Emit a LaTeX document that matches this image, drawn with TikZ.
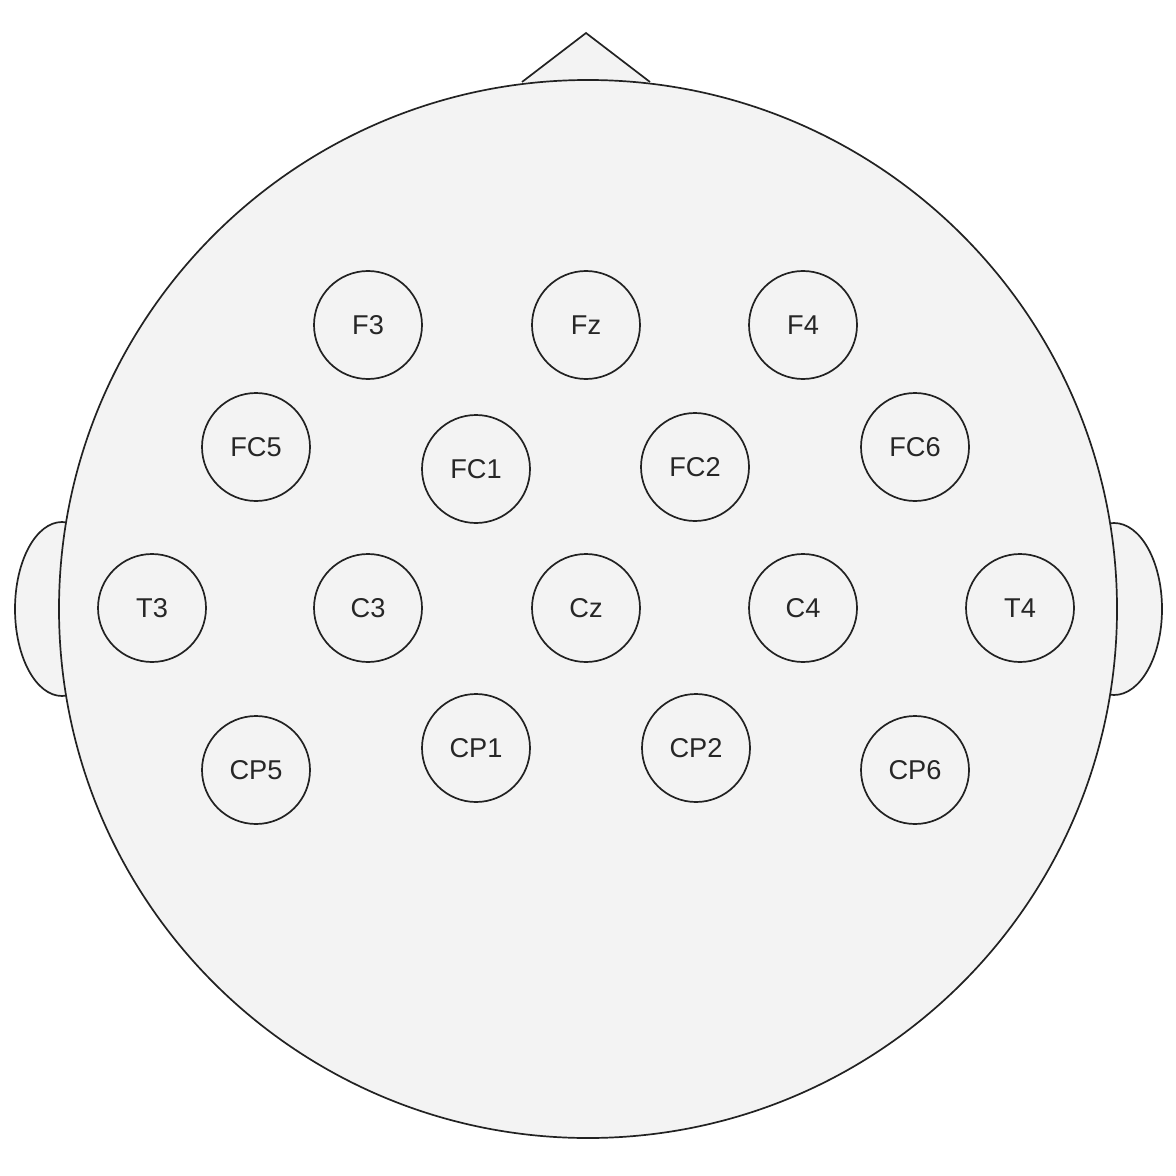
\documentclass[tikz,border=0pt]{standalone}
\usepackage{fontspec}
\setmainfont{Liberation Sans}
\definecolor{headfill}{HTML}{F3F3F3}
\definecolor{headline}{HTML}{222222}

\begin{document}
\begin{tikzpicture}[x=0.5pt,y=-0.5pt,line width=0.85pt]

        \useasboundingbox (0,0) rectangle (1176,1176);

        % nose and ears first, head drawn over them
        \draw[headline,fill=headfill] (522,82) -- (586,33) -- (650,82);
        \draw[headline,fill=headfill] (62,609) ellipse [x radius=47,y radius=87];
        \draw[headline,fill=headfill] (1114,609) ellipse [x radius=48,y radius=86];
        \draw[headline,fill=headfill] (588,609) circle [radius=529];

        \begin{scope}[every node/.style={circle,draw=headline,text=black!85,
            inner sep=0pt,minimum size=54pt,font=\fontsize{13.6}{16}\selectfont}]
          \node (F3)  at (368,325) {F3};
          \node (Fz)  at (586,325) {Fz};
          \node (F4)  at (803,325) {F4};
          \node (FC5) at (256,447) {FC5};
          \node (FC1) at (476,469) {FC1};
          \node (FC2) at (695,467) {FC2};
          \node (FC6) at (915,447) {FC6};
          \node (T3)  at (152,608) {T3};
          \node (C3)  at (368,608) {C3};
          \node (Cz)  at (586,608) {Cz};
          \node (C4)  at (803,608) {C4};
          \node (T4)  at (1020,608) {T4};
          \node (CP5) at (256,770) {CP5};
          \node (CP1) at (476,748) {CP1};
          \node (CP2) at (696,748) {CP2};
          \node (CP6) at (915,770) {CP6};
        \end{scope}

      \end{tikzpicture}
\end{document}
